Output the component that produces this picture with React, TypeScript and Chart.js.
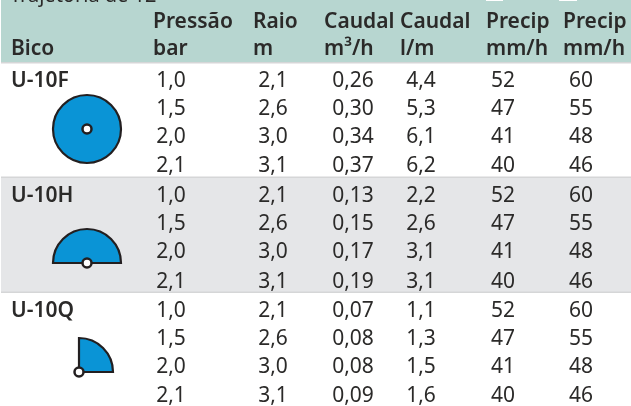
import React, { useEffect, useRef } from "react";
import { Chart, registerables } from "chart.js";

Chart.register(...registerables);

const WIDTH = 631;
const HEIGHT = 406;

const pressure = ["1,0", "1,5", "2,0", "2,1"];
const radius = ["2,1", "2,6", "3,0", "3,1"];
const flowM3 = [
  ["0,26", "0,30", "0,34", "0,37"],
  ["0,13", "0,15", "0,17", "0,19"],
  ["0,07", "0,08", "0,08", "0,09"],
];
const flowL = [
  ["4,4", "5,3", "6,1", "6,2"],
  ["2,2", "2,6", "3,1", "3,1"],
  ["1,1", "1,3", "1,5", "1,6"],
];
const precipSquare = ["52", "47", "41", "40"];
const precipTriangle = ["60", "55", "48", "46"];
const nozzles = ["U-10F", "U-10H", "U-10Q"];
const headerTop = ["Pressão", "Raio", "Caudal", "Caudal", "Precip", "Precip"];
const headerBottom = ["bar", "m", "m³/h", "l/m", "mm/h", "mm/h"];
const headerFirst = "Bico";
const sweepDegrees = [360, 180, 90];
const caption = "Trajetória de 12°";

// layout, kept apart from the values
const headerX = [153, 253, 324, 400, 486, 563];
const colX = [171, 273, 353, 421, 503, 581];
const rowBaselines = [
  [87, 115, 143, 172],
  [202, 230, 258, 288],
  [317, 345, 373, 402],
];
const nameBaseline = [87, 202, 317];
const iconCentre = [
  { x: 87, y: 129 },
  { x: 87, y: 263 },
  { x: 79, y: 372 },
];
const iconR = 34;
const POINT_OVERFLOW = 7; // chart area inset caused by the hole points

const FONT = '"Noto Sans"';
const INK = "#2b2a29";

export default function App() {
  const ref = useRef<HTMLCanvasElement>(null);
  useEffect(() => {
    document.body.style.margin = "0";
    const chart = new Chart(ref.current!, {
      type: "scatter",
      data: {
        datasets: [
          {
            label: "Bico",
            data: iconCentre,
            pointStyle: "circle",
            pointRadius: 4.5,
            pointHoverRadius: 4.5,
            pointBackgroundColor: "#ffffff",
            pointBorderColor: "#231f20",
            pointBorderWidth: 2.5,
          },
        ],
      },
      options: {
        animation: false,
        responsive: false,
        layout: { padding: 0 },
        plugins: { legend: { display: false }, tooltip: { enabled: false } },
        scales: {
          x: { type: "linear", display: false, min: POINT_OVERFLOW, max: WIDTH - POINT_OVERFLOW },
          y: { type: "linear", display: false, min: POINT_OVERFLOW, max: HEIGHT - POINT_OVERFLOW, reverse: true },
        },
      },
      plugins: [
        {
          id: "bands",
          beforeDatasetsDraw(chart: any) {
            const { ctx, scales } = chart;
            const X = (v: number) => scales.x.getPixelForValue(v);
            const Y = (v: number) => scales.y.getPixelForValue(v);
            ctx.save();
            ctx.fillStyle = "#b7d6d0";
            ctx.fillRect(X(1), Y(0), X(WIDTH) - X(1), Y(62));
            ctx.fillStyle = "#ffffff";
            ctx.fillRect(X(486), Y(0), 17, 1);
            ctx.fillRect(X(559), Y(0), 18, 1);
            ctx.fillStyle = "#e5e6e8";
            ctx.fillRect(X(1), Y(177), X(WIDTH) - X(1), Y(292) - Y(177));
            ctx.fillStyle = "#d5d6d7";
            [62, 176.5, 291.5].forEach((y) =>
              ctx.fillRect(X(1), Y(y), X(WIDTH) - X(1), 1.5)
            );
            iconCentre.forEach((c, b) => {
              const cx = X(c.x);
              const cy = Y(c.y);
              const sweep = sweepDegrees[b];
              const start = sweep === 90 ? -Math.PI / 2 : Math.PI;
              const end = start + (sweep * Math.PI) / 180;
              ctx.beginPath();
              if (sweep < 360) ctx.moveTo(cx, cy);
              ctx.arc(cx, cy, iconR, start, end);
              ctx.closePath();
              ctx.fillStyle = "#0a94d6";
              ctx.fill();
              ctx.lineWidth = 2.2;
              ctx.strokeStyle = "#231f20";
              ctx.stroke();
            });
            ctx.restore();
          },
          afterDatasetsDraw(chart: any) {
            const { ctx, scales } = chart;
            const X = (v: number) => scales.x.getPixelForValue(v);
            const Y = (v: number) => scales.y.getPixelForValue(v);
            ctx.save();
            ctx.textBaseline = "alphabetic";
            ctx.fillStyle = INK;
            ctx.textAlign = "left";
            ctx.font = `20px ${FONT}`;
            ctx.fillText(caption, X(10), Y(2));
            ctx.font = `600 21px ${FONT}`;
            ctx.fillText(headerFirst, X(11), Y(55));
            headerTop.forEach((t, i) => ctx.fillText(t, X(headerX[i]), Y(28)));
            headerBottom.forEach((t, i) => ctx.fillText(t, X(headerX[i]), Y(55)));
            rowBaselines.forEach((rows, b) => {
              ctx.font = `600 21px ${FONT}`;
              ctx.textAlign = "left";
              ctx.fillText(nozzles[b], X(11), Y(nameBaseline[b]));
              ctx.font = `21px ${FONT}`;
              ctx.textAlign = "center";
              const cols = [pressure, radius, flowM3[b], flowL[b], precipSquare, precipTriangle];
              cols.forEach((col, c) => {
                col.forEach((t, r) => ctx.fillText(t, X(colX[c]), Y(rows[r])));
              });
            });
            ctx.restore();
          },
        },
      ],
    } as any);
    return () => chart.destroy();
  }, []);
  return <canvas ref={ref} width={WIDTH} height={HEIGHT} style={{ display: "block" }} />;
}
